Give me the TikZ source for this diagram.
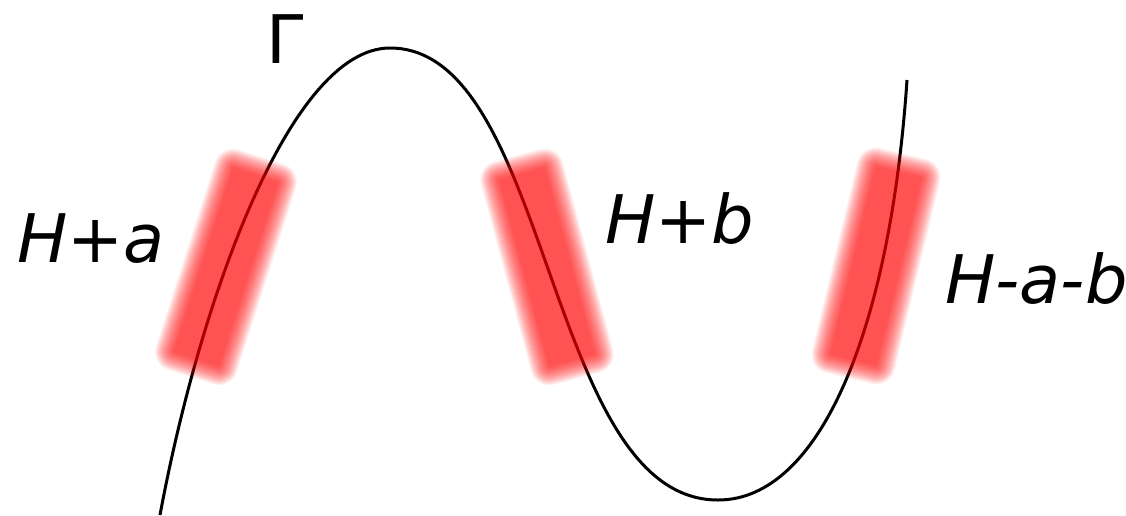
\documentclass[tikz,border=0pt]{standalone}
\usepackage{fontspec}
\setmainfont{DejaVu Sans}
\newcommand\blurbar[3]{%
  \begin{scope}[shift={(#1,#2)}, rotate=#3]
    \foreach \k in {0,...,19}{
      \pgfmathsetmacro\ea{33+9.5-\k}
      \pgfmathsetmacro\eb{106+9.5-\k}
      \pgfmathsetmacro\er{max(19-\k,0.1)}
      \fill[barfill, rounded corners=\er pt] (-\ea,-\eb) rectangle (\ea,\eb);
    }
  \end{scope}}
\begin{document}
\begin{tikzpicture}[x=1pt,y=-1pt,
  lbl/.style={anchor=base west, inner sep=0pt, font=\fontsize{67}{80}\selectfont\itshape},
  glbl/.style={anchor=base west, inner sep=0pt, font=\fontsize{67}{80}\selectfont},
  curve/.style={line width=3pt, black},
  barfill/.style={fill=red, opacity=0.054}]
\useasboundingbox (0,0) rectangle (1126,515);
\coordinate (p0) at (160,515);
\coordinate (p1) at (390,48);
\coordinate (p2) at (718,500);
\coordinate (p3) at (907,80);
\draw[curve] (p0) .. controls (200,300) and (290,48) .. (p1)
  .. controls (552,48) and (545,500) .. (p2)
  .. controls (820,500) and (890,330) .. (p3);
\blurbar{226}{267}{-17.8}
\blurbar{547}{267}{15}
\blurbar{876}{266}{-13.5}
\node[lbl] (la) at (17,262) {H+a};
\node[lbl] (lb) at (605,243) {H+b};
\node[lbl] (lc) at (945,303) {H-a-b};
\node[glbl] (lg) at (266,63) {Γ};
\end{tikzpicture}
\end{document}
